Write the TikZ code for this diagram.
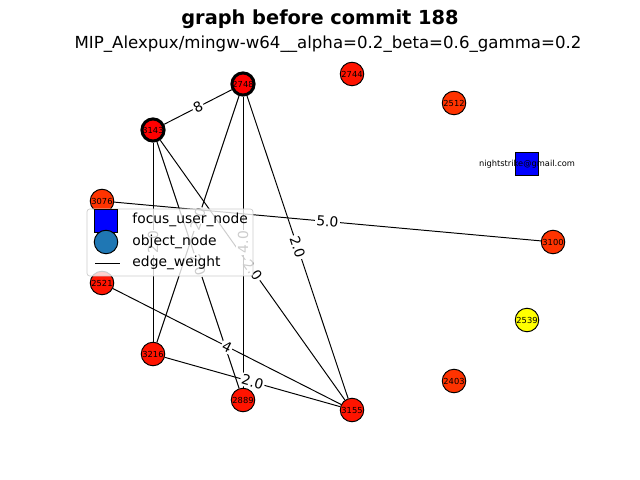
\documentclass[tikz,border=0pt]{standalone}
\usepackage{fontspec}
\setmainfont{DejaVu Sans}
\usetikzlibrary{positioning}
\tikzset{obj/.style = {circle, draw, line width=0.7pt, minimum size=17pt, inner sep=0,
                       font=\fontsize{6}{7}\selectfont}}
\tikzset{hub/.style = {obj, line width=2.2pt, minimum size=16pt}}
\tikzset{wlabel/.style = {midway, sloped, fill=white, inner sep=1pt,
                          font=\fontsize{10}{12}\selectfont}}
\tikzset{legtext/.style = {anchor=west, inner sep=0, font=\fontsize{10}{12}\selectfont}}
\definecolor{nred}{RGB}{255,20,0}
\definecolor{nora}{RGB}{255,51,0}
\definecolor{nyel}{RGB}{255,255,0}
\definecolor{mplblue}{RGB}{31,119,180}

\begin{document}
\begin{tikzpicture}[x=0.254mm, y=-0.254mm, line width=0.7pt]
      \useasboundingbox (0, 0) rectangle (640, 480);

      \node [font=\bfseries\fontsize{14}{16}\selectfont] (title) at (320, 19) {graph before commit 188};
      \node [font=\fontsize{12}{14}\selectfont] (subtitle) at (328, 44) {MIP\_Alexpux/mingw-w64\_\_alpha=0.2\_beta=0.6\_gamma=0.2};

      \node [hub, fill=red] (n2748) at (243, 84) {2748};
      \node [hub, fill=red] (n3143) at (153, 130) {3143};
      \node [obj, fill=nred] (n2744) at (352, 74) {2744};
      \node [obj, fill=nora] (n2512) at (454, 103) {2512};
      \node [obj, fill=nora] (n3076) at (102, 201) {3076};
      \node [obj, fill=nora] (n3100) at (553, 242) {3100};
      \node [obj, fill=nred] (n2521) at (102, 283) {2521};
      \node [obj, fill=nyel] (n2539) at (527, 320) {2539};
      \node [obj, fill=nred] (n3216) at (153, 354) {3216};
      \node [obj, fill=nora] (n2403) at (454, 381) {2403};
      \node [obj, fill=nred] (n2889) at (243, 400) {2889};
      \node [obj, fill=nred] (n3155) at (352, 410) {3155};

      \node [draw, fill=blue, line width=0.7pt, minimum size=17pt, inner sep=0] (user) at (527, 164) {};
      \node [font=\fontsize{6}{7}\selectfont, inner sep=0] (userlabel) at (user) {nightstrike@gmail.com};

      \draw (n3143) -- (n2748) node [wlabel] {8};
      \draw (n3216) -- (n3143) node [wlabel] {2.0};
      \draw (n3143) -- (n2889) node [wlabel] {2.0};
      \draw (n3143) -- (n3155) node [wlabel] {2.0};
      \draw (n3216) -- (n2748) node [wlabel] {2.0};
      \draw (n2889) -- (n2748) node [wlabel] {4.0};
      \draw (n2748) -- (n3155) node [wlabel] {2.0};
      \draw (n3076) -- (n3100) node [wlabel] {5.0};
      \draw (n2521) -- (n3155) node [wlabel] {4};
      \draw (n3216) -- (n3155) node [wlabel] {2.0};

      % legend
      \draw [draw=black!20, line width=0.5pt, fill=white, fill opacity=0.8, rounded corners=2pt] (87, 209) rectangle (253, 276);
      \node [draw, fill=blue, minimum size=17pt, inner sep=0] (legsquare) at (106, 221) {};
      \node [circle, draw, fill=mplblue, minimum size=17pt, inner sep=0] (legcircle) at (106, 242) {};
      \coordinate (legA) at (95, 263);
      \coordinate (legB) at (120, 263);
      \draw (legA) -- (legB);
      \node [legtext] (leg1) at (132, 220) {focus\_user\_node};
      \node [legtext] (leg2) at (132, 242) {object\_node};
      \node [legtext] (leg3) at (132, 263) {edge\_weight};
    \end{tikzpicture}
\end{document}
